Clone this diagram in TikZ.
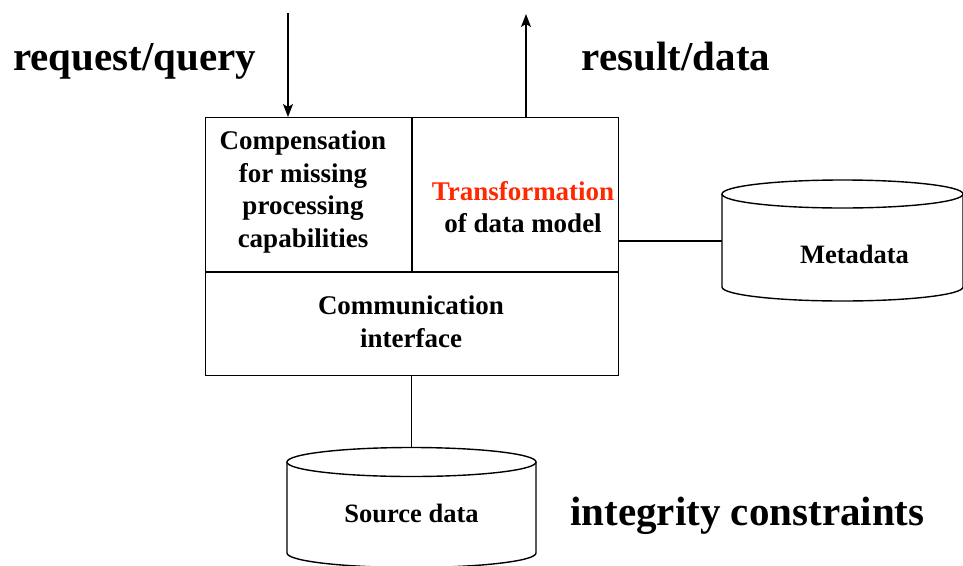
\documentclass[tikz,border=0pt]{standalone}
\usepackage{fontspec}
\setmainfont{Liberation Serif}
\newfontfamily\tnrfont{Liberation Serif}
\usetikzlibrary{arrows.meta}
\definecolor{tred}{RGB}{255,40,0}
\begin{document}
\begin{tikzpicture}[x=1pt,y=-1pt,
  boxline/.style={line width=1.4pt},
  arr/.style={line width=1.3pt,-{Stealth[length=13pt,width=10pt,inset=3pt]}},
  big/.style={font=\tnrfont\bfseries\fontsize{41}{48}\selectfont, inner sep=0pt, anchor=base},
  cell/.style={font=\tnrfont\bfseries\fontsize{27}{32.5}\selectfont, align=center, inner sep=0pt},
  dblabel/.style={font=\tnrfont\bfseries\fontsize{26.5}{31}\selectfont, inner sep=0pt, anchor=base}]
\clip (0,0) rectangle (963,565);
\useasboundingbox (0,0) rectangle (963,565);

% main box
\node[draw, boxline, minimum width=413pt, minimum height=258pt, inner sep=0pt, anchor=north west] (main) at (205,117) {};
\coordinate (divL) at (205,272);
\coordinate (divT) at (412,117);
\draw[boxline] (divL) -- (divL -| main.east);
\draw[boxline] (divT) -- (divT |- divL);

\node[cell] (comp) at (303,192) {Compensation\\for missing\\processing\\capabilities};
\node[cell] (trans) at (523,207) {\textcolor{tred}{Transformation}\\of data model};
\node[cell] (comm) at (411,322) {Communication\\interface};

% top arrows and labels
\coordinate (reqstart) at (288,13);
\coordinate (resend) at (526,14);
\draw[arr] (reqstart) -- (reqstart |- main.north);
\draw[arr] (resend |- main.north) -- (resend);
\node[big] (req) at (134.5,70) {request/query};
\node[big] (res) at (676,70) {result/data};

% Metadata cylinder
\draw[boxline] (842.5,194) ellipse [x radius=120.5pt, y radius=14pt];
\draw[boxline] (722,194) -- (722,287) arc[start angle=180, end angle=360, x radius=120.5pt, y radius=14pt] -- (963,194);
\node[dblabel] (meta) at (854.5,263) {Metadata};
\coordinate (metaleft) at (722,241);
\draw[boxline] (metaleft -| main.east) -- (metaleft);

% Source data cylinder
\draw[boxline] (411.5,462) ellipse [x radius=124.5pt, y radius=14.5pt];
\draw[boxline] (287,462) -- (287,553) arc[start angle=180, end angle=360, x radius=124.5pt, y radius=14.5pt] -- (536,462);
\node[dblabel] (src) at (411.5,522) {Source data};
\coordinate (srctop) at (411.5,447.5);
\draw[boxline] (main.south -| srctop) -- (srctop);

\node[big] (integ) at (747.5,525) {integrity constraints};
\end{tikzpicture}
\end{document}
